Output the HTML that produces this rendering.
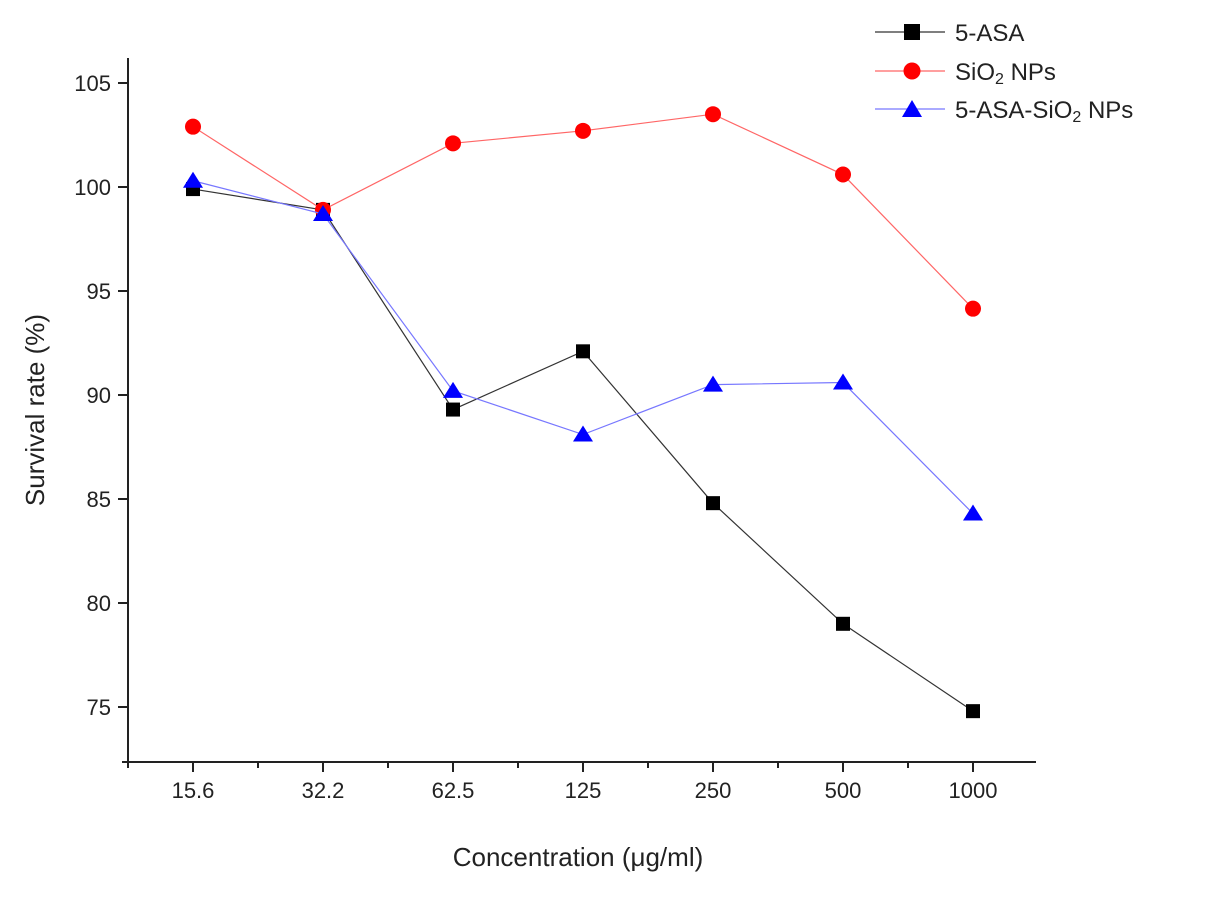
<!DOCTYPE html>
<html><head><meta charset="utf-8"><style>
body{margin:0;background:#fff}
svg text{font-family:"Liberation Sans",Arial,sans-serif;fill:#222}
</style></head><body>
<svg id="chart" width="1206" height="893" viewBox="0 0 1206 893">
<g id="axes"></g><g id="series"></g>
<g id="legend">
 <g>
  <line x1="875" y1="32" x2="945" y2="32" stroke="#333" stroke-width="1.2"/>
  <rect x="904" y="24" width="16" height="16" fill="#000"/>
  <text x="955" y="41" font-size="24">5-ASA</text></g>
 <g>
  <line x1="875" y1="71" x2="945" y2="71" stroke="#f66" stroke-width="1.2"/>
  <circle cx="912" cy="71" r="8.5" fill="#f00"/>
  <text x="955" y="80" font-size="24">SiO<tspan font-size="16" dy="4">2</tspan><tspan dy="-4"> NPs</tspan></text></g>
 <g>
  <line x1="875" y1="109" x2="945" y2="109" stroke="#77f" stroke-width="1.2"/>
  <polygon points="912,100 922,117 902,117" fill="#00f"/>
  <text x="955" y="118" font-size="24">5-ASA-SiO<tspan font-size="16" dy="4">2</tspan><tspan dy="-4"> NPs</tspan></text></g>
</g>
<text x="578" y="866" font-size="26" text-anchor="middle">Concentration (μg/ml)</text>
<text transform="translate(44,410) rotate(-90)" font-size="26" text-anchor="middle">Survival rate (%)</text>
</svg>
<script>
const categories=["15.6","32.2","62.5","125","250","500","1000"];
const asa=[99.9,98.9,89.3,92.1,84.8,79.0,74.8];
const sio2=[102.9,98.9,102.1,102.7,103.5,100.6,94.15];
const asaSio2=[100.3,98.7,90.2,88.1,90.5,90.6,84.3];
const yTicks=[75,80,85,90,95,100,105];
const NS="http://www.w3.org/2000/svg";
const x=i=>193+i*130;
const y=v=>707-(v-75)*20.8;
function mk(t,a,p){const e=document.createElementNS(NS,t);for(const k in a)e.setAttribute(k,a[k]);p.appendChild(e);return e;}
const ax=document.getElementById('axes');
const yl=mk('line',{x1:128,y1:58,x2:128,y2:763,stroke:'#222','stroke-width':2},ax);


const xl=mk('line',{x1:122,y1:762,x2:1036,y2:762,stroke:'#222','stroke-width':2},ax);


yTicks.forEach(v=>{
 mk('line',{x1:118,y1:y(v),x2:128,y2:y(v),stroke:'#222','stroke-width':2},ax);
 const t=mk('text',{x:111,y:y(v)+8,'font-size':22,'text-anchor':'end'},ax);t.textContent=v;
 
 
});
for(let k=-1;k<=13;k++){const xx=193+k*65;if(xx<128||xx>1036)continue;
 mk('line',{x1:xx,y1:762,x2:xx,y2:762+(k%2?6:10),stroke:'#222','stroke-width':2},ax);}
categories.forEach((c,i)=>{const t=mk('text',{x:x(i),y:798,'font-size':22,'text-anchor':'middle'},ax);t.textContent=c;
 
 });
const sg=document.getElementById('series');
function series(data,col,lc,shape,name){
 const g=mk('g',{},sg);
 
 
 mk('polyline',{points:data.map((v,i)=>x(i)+','+y(v)).join(' '),fill:'none',stroke:lc,'stroke-width':1.2},g);
 data.forEach((v,i)=>{const cx=x(i),cy=y(v);let m;
  if(shape==='sq')m=mk('rect',{x:cx-7,y:cy-7,width:14,height:14,fill:col},g);
  else if(shape==='c')m=mk('circle',{cx:cx,cy:cy,r:8,fill:col},g);
  else m=mk('polygon',{points:`${cx},${cy-9} ${cx+10},${cy+7} ${cx-10},${cy+7}`,fill:col},g);
  
  });
}
series(asa,'#000','#333','sq','series-5-asa');
series(sio2,'#f00','#f66','c','series-sio2-nps');
series(asaSio2,'#00f','#77f','t','series-5-asa-sio2-nps');
</script>
</body></html>
